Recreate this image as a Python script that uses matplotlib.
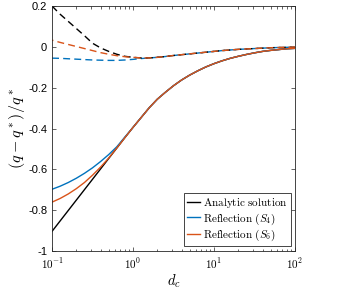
"""
Relative error of q vs d_c: analytic solution and reflection (S4, S6)
"""

import matplotlib
matplotlib.use('Agg')
import matplotlib.pyplot as plt
import numpy as np

# log10(d_c) sample positions
logd = [-1.0, -0.9, -0.8, -0.7, -0.6, -0.5, -0.4, -0.3, -0.2, -0.1, 0.0,
        0.1, 0.2, 0.3, 0.4, 0.5, 0.6, 0.7, 0.8, 0.9, 1.0,
        1.1, 1.2, 1.3, 1.4, 1.5, 1.6, 1.7, 1.8, 1.9, 2.0]

# solid curves
analytic = [-0.903, -0.852, -0.801, -0.750, -0.699, -0.648, -0.597, -0.546, -0.495, -0.444, -0.394,
            -0.346, -0.298, -0.256, -0.222, -0.190, -0.162, -0.138, -0.117, -0.098, -0.082,
            -0.068, -0.056, -0.046, -0.037, -0.029, -0.022, -0.017, -0.013, -0.009, -0.007]
refl_s4 = [-0.697, -0.682, -0.664, -0.643, -0.619, -0.592, -0.561, -0.527, -0.489, -0.441, -0.394,
           -0.346, -0.298, -0.256, -0.222, -0.190, -0.162, -0.138, -0.117, -0.098, -0.082,
           -0.068, -0.056, -0.046, -0.037, -0.029, -0.022, -0.017, -0.013, -0.009, -0.007]
refl_s6 = [-0.760, -0.742, -0.720, -0.694, -0.664, -0.628, -0.588, -0.544, -0.495, -0.444, -0.394,
           -0.346, -0.298, -0.256, -0.222, -0.190, -0.162, -0.138, -0.117, -0.098, -0.082,
           -0.068, -0.056, -0.046, -0.037, -0.029, -0.022, -0.017, -0.013, -0.009, -0.007]

# dashed curves
analytic_d = [0.200, 0.160, 0.125, 0.090, 0.055, 0.018, -0.005, -0.022, -0.036, -0.046, -0.051,
              -0.054, -0.054, -0.051, -0.047, -0.042, -0.038, -0.034, -0.030, -0.026, -0.022,
              -0.018, -0.015, -0.012, -0.010, -0.008, -0.006, -0.004, -0.003, -0.002, -0.001]
s4_d = [-0.055, -0.056, -0.058, -0.060, -0.062, -0.064, -0.065, -0.066, -0.066, -0.064, -0.061,
        -0.057, -0.054, -0.051, -0.047, -0.042, -0.038, -0.034, -0.030, -0.026, -0.022,
        -0.018, -0.015, -0.012, -0.010, -0.008, -0.006, -0.004, -0.003, -0.002, -0.001]
s6_d = [0.033, 0.022, 0.012, 0.002, -0.008, -0.018, -0.028, -0.036, -0.043, -0.048, -0.051,
        -0.054, -0.054, -0.051, -0.047, -0.042, -0.038, -0.034, -0.030, -0.026, -0.022,
        -0.018, -0.015, -0.012, -0.010, -0.008, -0.006, -0.004, -0.003, -0.002, -0.001]

xticks = [0.1, 1, 10, 100]
xticklabels = [r'$10^{-1}$', r'$10^{0}$', r'$10^{1}$', r'$10^{2}$']
yticks = [-1, -0.8, -0.6, -0.4, -0.2, 0, 0.2]
yticklabels = ['-1', '-0.8', '-0.6', '-0.4', '-0.2', '0', '0.2']

plt.rcParams['font.family'] = 'Liberation Sans'
plt.rcParams['mathtext.fontset'] = 'cm'

blue = '#0072BD'
orange = '#D95319'

fig = plt.figure(figsize=(3.47, 2.89), dpi=100)
ax = fig.add_axes([0.150, 0.131, 0.700, 0.848])

d = 10 ** np.array(logd)

ax.plot(d, analytic, color='k', lw=1.0, label=r'$\mathrm{Analytic\ solution}$')
ax.plot(d, refl_s4, color=blue, lw=1.0, label=r'$\mathrm{Reflection\ (}S_4\mathrm{)}$')
ax.plot(d, refl_s6, color=orange, lw=1.0, label=r'$\mathrm{Reflection\ (}S_6\mathrm{)}$')

ax.plot(d, s4_d, color=blue, lw=1.0, ls=(0, (5, 3)))
ax.plot(d, analytic_d, color='k', lw=1.0, ls=(0, (5, 3)))
ax.plot(d, s6_d, color=orange, lw=1.0, ls=(4, (5, 3)))

ax.set_xscale('log')
ax.set_xlim(0.1, 100)
ax.set_ylim(-1, 0.2)
ax.set_xticks(xticks)
ax.set_xticklabels(xticklabels)
ax.set_yticks(yticks)
ax.set_yticklabels(yticklabels)

ax.tick_params(which='both', direction='in', top=True, right=True, labelsize=8,
               color='#262626', width=0.5)
ax.tick_params(which='major', length=3)
ax.tick_params(which='minor', length=1.8)
for s in ax.spines.values():
    s.set_linewidth(0.6)
    s.set_color('#262626')

ax.set_xlabel(r'$d_c$', fontsize=10.5, labelpad=1)
ax.set_ylabel(r'$(q-q^*)/q^*$', fontsize=11.5, labelpad=1)

leg = ax.legend(loc='lower right', bbox_to_anchor=(0.982, 0.02), borderaxespad=0,
                fontsize=8, handlelength=1.2, handletextpad=0.25, labelspacing=0.15,
                borderpad=0.25, fancybox=False, framealpha=1, edgecolor='#262626')
leg.get_frame().set_linewidth(0.6)

plt.savefig('out.png', dpi=100)
plt.close()
